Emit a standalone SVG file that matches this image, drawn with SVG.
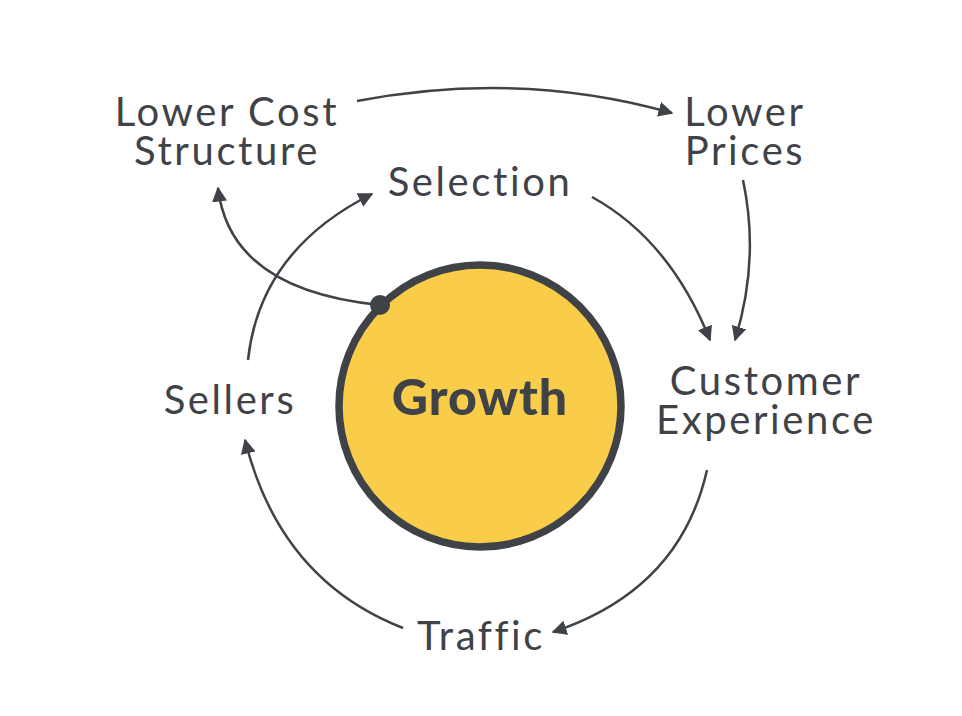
<svg xmlns="http://www.w3.org/2000/svg" width="962" height="716" viewBox="0 0 962 716">
<style>
.lbl{font-family:Lato,"Noto Sans","Liberation Sans",sans-serif;font-size:40px;letter-spacing:2.6px;fill:#3f4247;text-anchor:middle}
.conn{fill:none;stroke:#3f4247;stroke-width:2.5;marker-end:url(#ah)}
</style>
<defs>
<marker id="ah" viewBox="0 0 10 10" refX="9" refY="5" markerWidth="6" markerHeight="6" markerUnits="strokeWidth" orient="auto">
<path d="M0,0 L10,5 L0,10 z" fill="#3f4247"/>
</marker>
</defs>
<rect width="962" height="716" fill="#ffffff"/>
<g id="connectors">
<path class="conn" d="M357,101 Q520,70 672,113"/>
<path class="conn" d="M743,180 Q760,260 735,340"/>
<path class="conn" d="M592,197 Q670,240 710,340"/>
<path class="conn" d="M707,470 Q680,590 553,632"/>
<path class="conn" d="M403,628 Q280,580 245,440"/>
<path class="conn" d="M248,360 Q260,250 372,194"/>
<path class="conn" d="M380,305 Q230,290 218,188"/>
</g>
<g id="growth">
<circle cx="480" cy="406" r="141" fill="#f9cc4a" stroke="#3f4247" stroke-width="7.5"/>
<text class="lbl" x="480" y="415" style="font-weight:900;font-size:50px;letter-spacing:1px">Growth</text>
</g>
<g id="dot"><circle cx="380" cy="305" r="10" fill="#3f4247"/></g>
<g id="lower-cost"><text class="lbl" x="227" y="126">Lower Cost</text><text class="lbl" x="227" y="165">Structure</text></g>
<g id="lower-prices"><text class="lbl" x="745" y="126">Lower</text><text class="lbl" x="745" y="165">Prices</text></g>
<g id="selection"><text class="lbl" x="480" y="196">Selection</text></g>
<g id="customer-experience"><text class="lbl" x="766" y="395">Customer</text><text class="lbl" x="766" y="434">Experience</text></g>
<g id="sellers"><text class="lbl" x="230" y="414">Sellers</text></g>
<g id="traffic"><text class="lbl" x="481" y="650">Traffic</text></g>
</svg>
